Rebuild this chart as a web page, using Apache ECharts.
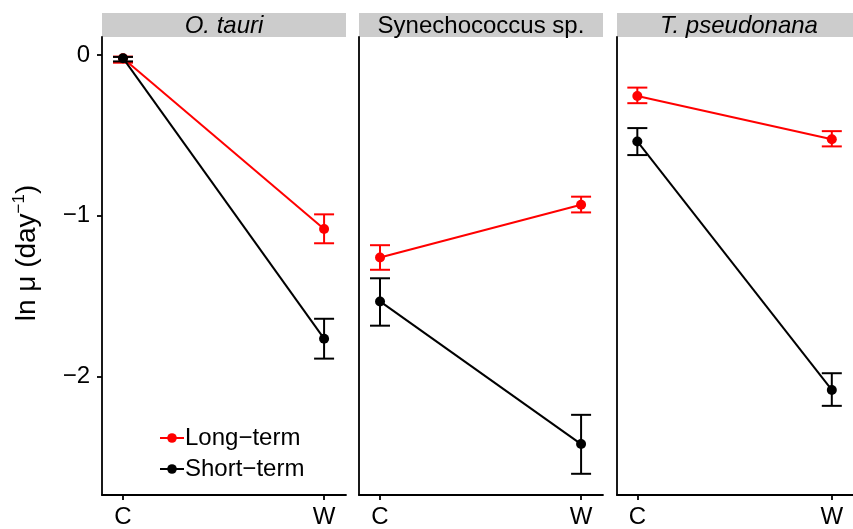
<!DOCTYPE html>
<html>
<head>
<meta charset="utf-8">
<script src="https://cdn.jsdelivr.net/npm/echarts@6/dist/echarts.min.js"></script>
<style>html,body{margin:0;padding:0;background:#fff}#c{width:853px;height:529px}</style>
</head>
<body>
<div id="c"></div>
<script>
// ---- data ----
const categories = ['C', 'W'];
const panels = ['O. tauri', 'Synechococcus sp.', 'T. pseudonana'];
const panelItalic = [true, false, true];
const groups = ['Long\u2212term', 'Short\u2212term'];
const yTicks = [0, -1, -2];
// means per panel [C, W]
const longMean  = [[-0.02, -1.083], [-1.261, -0.932], [-0.255, -0.524]];
const longLo    = [[-0.048, -1.172], [-1.337, -0.980], [-0.300, -0.569]];
const longHi    = [[-0.010, -0.992], [-1.184, -0.882], [-0.203, -0.474]];
const shortMean = [[-0.02, -1.766], [-1.534, -2.422], [-0.538, -2.085]];
const shortLo   = [[-0.040, -1.890], [-1.685, -2.607], [-0.623, -2.184]];
const shortHi   = [[-0.012, -1.642], [-1.390, -2.240], [-0.455, -1.981]];

// ---- layout ----
const gridLefts = [102, 359, 617];
const gridW = 244, gridTop = 37, gridBottomY = 496;
const font = 'Liberation Sans, Arial, Helvetica, sans-serif';
const colors = ['#FF0000', '#000000'];

const chart = echarts.init(document.getElementById('c'), null, {renderer: 'canvas'});

const grids = [], xAxes = [], yAxes = [], lineSeries = [], barSeries = [], graphics = [];
const minus = v => (v < 0 ? '\u2212' + Math.abs(v) : String(v));

panels.forEach((p, i) => {
  grids.push({left: gridLefts[i], top: gridTop, width: gridW, height: gridBottomY - gridTop, containLabel: false});
  xAxes.push({
    type: 'value', gridIndex: i, min: -0.1045, max: 1.109,
    axisLine: {show: true, onZero: false, lineStyle: {color: '#000', width: 1.8}},
    axisTick: {show: true, length: 5, customValues: [0, 1], lineStyle: {color: '#000', width: 1.8}},
    axisLabel: {show: true, customValues: [0, 1], formatter: v => categories[Math.round(v)],
      color: '#000', fontSize: 24, fontFamily: font, margin: 10},
    splitLine: {show: false}
  });
  yAxes.push({
    type: 'value', gridIndex: i, min: -2.739, max: 0.112,
    axisLine: {show: true, onZero: false, lineStyle: {color: '#000', width: 1.8}},
    axisTick: {show: i === 0, length: 5, customValues: yTicks, lineStyle: {color: '#000', width: 1.8}},
    axisLabel: {show: i === 0, customValues: yTicks, formatter: minus,
      color: '#000', fontSize: 24, fontFamily: font, margin: 12},
    splitLine: {show: false},
    name: i === 0 ? '{a|ln \u03bc (day}{b|\u22121}{a|)}' : '',
    nameLocation: 'middle', nameRotate: 90, nameGap: 58,
    nameTextStyle: {padding: [0, 0, 0, 26], rich: {
      a: {fontSize: 28, fontFamily: font, color: '#000'},
      b: {fontSize: 17, fontFamily: font, color: '#000', verticalAlign: 'top', padding: [0, 0, 16, 0]}
    }}
  });
  const sets = [[longMean, longLo, longHi], [shortMean, shortLo, shortHi]];
  sets.forEach((s, g) => {
    const [mean, lo, hi] = s;
    lineSeries.push({
      type: 'line', name: groups[g], xAxisIndex: i, yAxisIndex: i,
      data: categories.map((c, k) => [k, mean[i][k]]),
      symbol: 'circle', symbolSize: 10, showSymbol: true,
      lineStyle: {color: colors[g], width: 2},
      itemStyle: {color: colors[g]},
      z: 3 + g, animation: false
    });
    barSeries.push({
      type: 'custom', name: groups[g], xAxisIndex: i, yAxisIndex: i,
      data: categories.map((c, k) => [k, lo[i][k], hi[i][k]]),
      encode: {x: 0, y: [1, 2]},
      itemStyle: {color: colors[g]},
      z: 3 + g,
      renderItem: (params, api) => {
        const x = api.value(0);
        const a = api.coord([x, api.value(1)]);
        const b = api.coord([x, api.value(2)]);
        const w = 10;
        const st = {stroke: colors[g], lineWidth: 2};
        return {type: 'group', children: [
          {type: 'line', shape: {x1: a[0], y1: a[1], x2: b[0], y2: b[1]}, style: st},
          {type: 'line', shape: {x1: a[0] - w, y1: a[1], x2: a[0] + w, y2: a[1]}, style: st},
          {type: 'line', shape: {x1: b[0] - w, y1: b[1], x2: b[0] + w, y2: b[1]}, style: st}
        ]};
      }
    });
  });
  graphics.push({type: 'rect', left: gridLefts[i], top: 13, shape: {width: gridW, height: 24},
    style: {fill: '#CCCCCC'}, z: 0});
  graphics.push({type: 'text', x: gridLefts[i] + gridW / 2, y: 26,
    style: {text: p, fill: '#000', fontSize: 24, fontFamily: font,
      fontStyle: panelItalic[i] ? 'italic' : 'normal', align: 'center', verticalAlign: 'middle'}, z: 1});
});

chart.setOption({
  animation: false,
  backgroundColor: '#fff',
  grid: grids, xAxis: xAxes, yAxis: yAxes, series: lineSeries.concat(barSeries),
  graphic: graphics,
  legend: {
    data: groups, orient: 'vertical', left: 154, top: 421, itemWidth: 24, itemHeight: 12, itemGap: 7,
    textStyle: {fontSize: 24, fontFamily: font, color: '#000', padding: [0, 0, 0, -4]}
  }
});
</script>
</body>
</html>
